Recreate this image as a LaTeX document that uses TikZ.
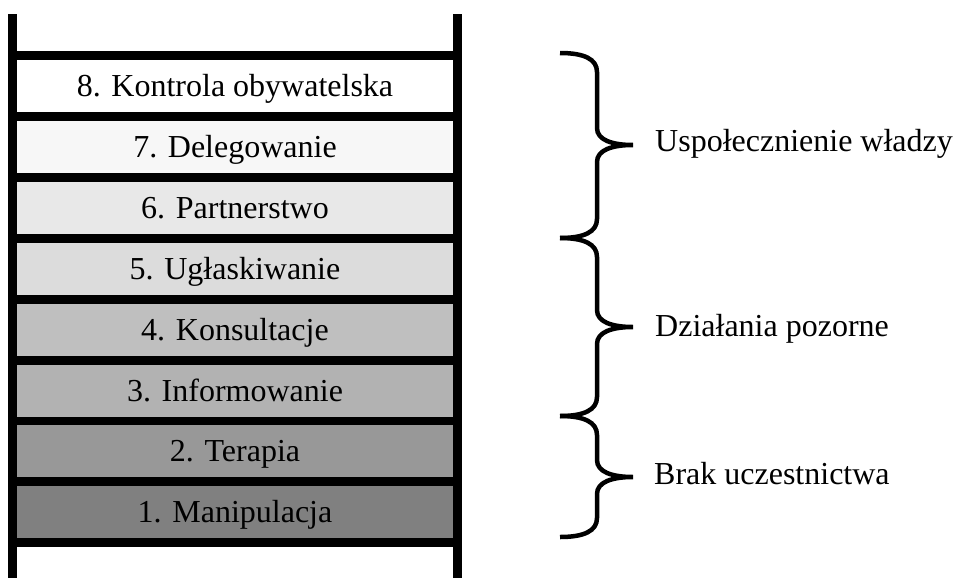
\documentclass[tikz,border=0pt]{standalone}
\usepackage{fontspec}
\setmainfont{Liberation Serif}

% shades of the ladder rungs, bottom (dark) to top (white)
\definecolor{rungA}{HTML}{808080}
\definecolor{rungB}{HTML}{989898}
\definecolor{rungC}{HTML}{B2B2B2}
\definecolor{rungD}{HTML}{BFBFBF}
\definecolor{rungE}{HTML}{DCDCDC}
\definecolor{rungF}{HTML}{E8E8E8}
\definecolor{rungG}{HTML}{F7F7F7}
\definecolor{rungH}{HTML}{FFFFFF}

% curly brace: top end, tip, bottom end (y values), spine at x=597
\newcommand\groupbrace[4]{%
  \coordinate (#4) at (633,#2);
  \draw[bracepath] (560,#1) .. controls (584,#1) and (597,#1+6) .. (597,#1+19)
    -- (597,#2-17) .. controls (597,#2-5) and (612,#2) .. (#4)
    .. controls (612,#2) and (597,#2+5) .. (597,#2+17)
    -- (597,#3-19) .. controls (597,#3-6) and (584,#3) .. (560,#3);
}

\begin{document}
\begin{tikzpicture}[x=1pt,y=-1pt,
  rung/.style={rectangle, draw=none, inner sep=0pt,
    minimum width=436pt, minimum height=52pt,
    text height=21pt, text depth=0pt,
    font=\fontsize{32}{38}\selectfont},
  bracepath/.style={draw=black, line width=4.5pt},
  grouplabel/.style={anchor=base west, inner sep=0pt,
    font=\fontsize{32}{38}\selectfont}]
\useasboundingbox (0,0) rectangle (957,578);

% rails and the black backing that shows between the rungs
\fill[black] (8,14) rectangle (17,578);
\fill[black] (453,14) rectangle (462,578);
\fill[black] (17,51) rectangle (453,547);

% rungs
\node[rung, fill=rungH] (r8) at (235,86.0)  {8. Kontrola obywatelska};
\node[rung, fill=rungG] (r7) at (235,146.9) {7. Delegowanie};
\node[rung, fill=rungF] (r6) at (235,207.8) {6. Partnerstwo};
\node[rung, fill=rungE] (r5) at (235,268.7) {5. Ugłaskiwanie};
\node[rung, fill=rungD] (r4) at (235,329.6) {4. Konsultacje};
\node[rung, fill=rungC] (r3) at (235,390.5) {3. Informowanie};
\node[rung, fill=rungB] (r2) at (235,451.4) {2. Terapia};
\node[rung, fill=rungA] (r1) at (235,512.3) {1. Manipulacja};

% group braces
\groupbrace{53}{145}{238}{t1}
\groupbrace{238}{327}{416}{t2}
\groupbrace{416}{477}{537}{t3}

% group labels
\node[grouplabel] (g1) at (655,151) {Uspołecznienie władzy};
\node[grouplabel] (g2) at (655,336) {Działania pozorne};
\node[grouplabel] (g3) at (654,484) {Brak uczestnictwa};
\end{tikzpicture}
\end{document}
